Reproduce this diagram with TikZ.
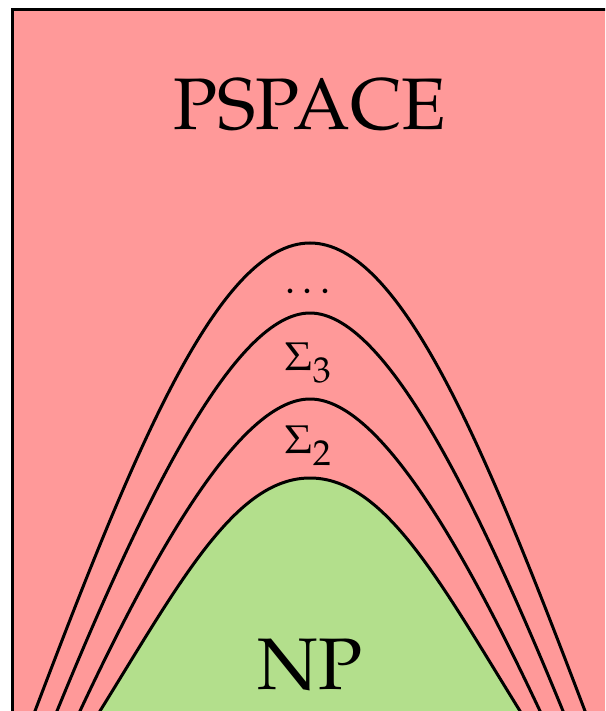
\documentclass[tikz,border=0pt]{standalone}
\usepackage[T1]{fontenc}
\usepackage{mathpazo}
\usepackage{tikz}
\definecolor{SpaceRed}{RGB}{255,153,153}
\definecolor{NPGreen}{RGB}{179,223,140}
\newcommand{\lvlname}[1]{$\Sigma$\raisebox{-6pt}{\fontsize{18}{20}\selectfont #1}}

\begin{document}
\begin{tikzpicture}[x=0.5pt,y=-0.5pt,line width=1.5pt,
  cls/.style={inner sep=0pt,font=\fontsize{36.5}{40}\selectfont},
  lvl/.style={inner sep=0pt,anchor=base,font=\fontsize{20}{22}\selectfont}]
\useasboundingbox (0,0) rectangle (605,711);
\clip (0,0) rectangle (605,711);
\fill[SpaceRed] (12.5,9.5) rectangle (640,740);
% hierarchy levels above NP
\foreach \bx/\cx/\cy/\tx/\ty in %
{35/133.3/452.3/218.3/243,57/147.2/491/236.3/313,80/161.1/538.5/243.3/399} {
   \draw (\bx,711) -- +(-8,20) (\bx,711) .. controls (\cx,\cy) and (\tx,\ty) .. (310,\ty)
      .. controls ({620-\tx},\ty) and ({620-\cx},\cy) .. ({620-\bx},711) -- +(8,20);
}
\fill[NPGreen] (90,735) -- (100,711) .. controls (179.9,582.1) and (235.4,478) .. (310,478)
   .. controls (384.6,478) and (440.1,582.1) .. (520,711) -- (530,735) -- cycle;
\draw (90,735) -- (100,711) .. controls (179.9,582.1) and (235.4,478) .. (310,478)
   .. controls (384.6,478) and (440.1,582.1) .. (520,711) -- (530,735);
\draw (12.5,740) -- (12.5,9.5) -- (640,9.5);
   \node[cls] (pspace) at (310,105) {PSPACE};
   \node[cls] (np) at (310,665) {NP};
   \node[lvl] (dots) at (308,293) {$\ldots$};
   \node[lvl] (sig3) at (308,370) {\lvlname{3}};
   \node[lvl] (sig2) at (308,453) {\lvlname{2}};
\end{tikzpicture}
\end{document}
